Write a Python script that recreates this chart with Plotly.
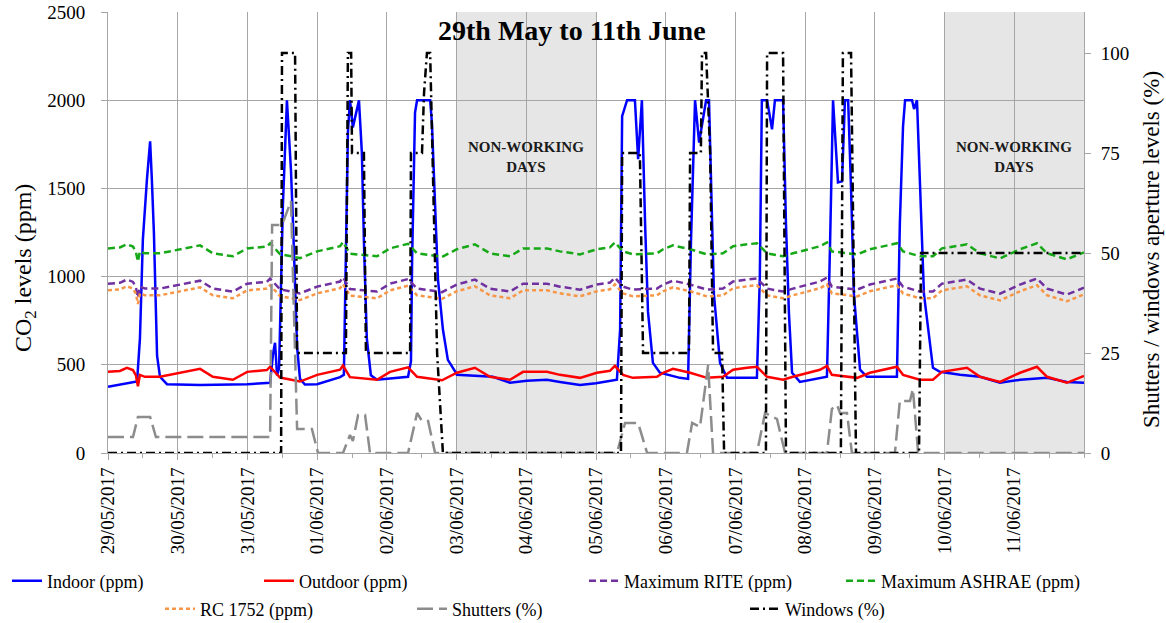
import pandas as pd
import plotly.graph_objects as go

START = pd.Timestamp("2017-05-29 00:00")

# ---- Indoor CO2 (hours since 29/05 00:00, ppm) ----
indoor_h = [0.0, 8.6, 10.0, 11.0, 12.0, 13.4, 14.5, 15.1, 15.8, 16.9, 17.9, 20.3, 31.7, 47.9,
            55.8, 56.8, 57.5, 58.2, 58.9, 60.2, 61.6, 62.3, 63.0, 63.7, 64.4, 65.1, 66.1, 67.8, 72.0,
            79.9, 81.2, 82.3, 82.6, 83.3, 84.3, 86.4, 87.4, 88.1, 89.1, 90.5, 92.6,
            103.3, 104.3, 104.7, 105.7, 106.4, 110.9, 111.5, 112.2, 113.6, 115.3, 117.0, 119.8,
            120.1, 132.5, 138.4, 144.2, 151.1, 155.6, 162.5, 168.0, 175.2,
            176.3, 177.0, 178.7, 181.4, 182.5, 183.8, 184.9, 185.9, 187.6, 190.0, 196.9,
            199.7, 200.7, 201.4, 202.1, 203.5, 204.8, 205.9, 206.9, 207.6, 208.6, 210.7, 213.1, 223.4,
            224.4, 225.1, 226.9, 228.6, 229.6, 232.4, 233.4, 234.4, 235.5, 238.2, 247.5,
            248.6, 249.6, 251.3, 252.7, 253.7, 254.8, 255.8, 256.8, 258.9, 261.3, 271.6,
            272.6, 273.7, 274.4, 276.8, 277.5, 278.5, 279.5, 280.9, 284.0, 286.4,
            293.3, 300.2, 307.1, 314.0, 323.3, 330.1, 336.0]
indoor_ppm = [375, 398, 405, 650, 1210, 1550, 1767, 1550, 1250, 550, 432, 390, 385, 390,
              398, 560, 625, 440, 480, 1400, 2000, 1800, 1600, 1300, 900, 600, 420, 388, 390,
              430, 443, 1600, 1820, 2000, 1846, 2000, 1700, 1200, 650, 440, 415,
              432, 520, 1100, 1930, 2000, 2000, 1875, 1550, 983, 700, 528, 455,
              443, 432, 398, 410, 415, 403, 386, 395, 415,
              700, 1910, 2000, 2000, 1665, 2000, 1300, 800, 511, 455, 426,
              420, 1200, 1600, 2000, 1760, 1900, 2000, 2000, 1500, 900, 511, 426, 426,
              1000, 2000, 2000, 1835, 2000, 2000, 1300, 800, 455, 403, 432,
              1200, 2000, 1534, 1540, 2000, 2000, 1500, 900, 472, 432, 432,
              1300, 1852, 2000, 2000, 1950, 2000, 1500, 900, 483, 460,
              443, 432, 398, 415, 426, 403, 398]

# ---- Outdoor CO2 and the three limit curves (hours, ppm) ----
outdoor_h = [0.0, 4.1, 6.5, 8.6, 9.6, 10.3, 11.0, 12.7, 17.9, 23.1, 28.2, 31.7, 36.1, 43.0,
             47.9, 54.7, 55.8, 59.2, 66.1, 72.0, 79.9, 80.9, 83.3, 92.6, 97.1, 103.3, 106.4,
             115.0, 120.1, 126.3, 131.5, 138.4, 142.9, 151.1, 155.6, 162.5, 168.3, 172.8,
             174.5, 177.3, 180.7, 189.0, 191.1, 194.5, 200.4, 206.2, 211.7, 215.2, 220.0,
             223.4, 226.9, 232.4, 235.8, 241.7, 245.1, 247.5, 249.2, 257.9, 262.3, 271.6,
             273.7, 279.5, 284.0, 287.1, 295.7, 300.2, 307.1, 314.0, 319.8, 323.3, 330.1, 336.0]
outdoor_ppm = [460, 465, 483, 470, 440, 378, 443, 432, 432, 450, 465, 477, 432, 415,
               460, 470, 489, 428, 405, 443, 472, 496, 430, 415, 460, 486, 432,
               412, 455, 483, 432, 415, 460, 460, 443, 426, 455, 466,
               494, 443, 426, 432, 455, 477, 455, 426, 432, 472, 483,
               489, 432, 415, 432, 460, 472, 494, 443, 426, 455, 489,
               443, 415, 415, 460, 483, 432, 403, 455, 489, 432, 398, 437]
rite_ppm = [960, 965, 983, 970, 940, 880, 943, 932, 932, 950, 965, 977, 932, 915,
            960, 970, 989, 928, 905, 943, 972, 996, 930, 915, 960, 986, 932,
            912, 955, 983, 932, 915, 960, 960, 943, 926, 955, 966,
            994, 943, 926, 932, 955, 977, 955, 926, 932, 972, 983,
            989, 932, 915, 932, 960, 972, 994, 943, 926, 955, 989,
            943, 915, 915, 960, 983, 932, 903, 955, 989, 932, 898, 937]
ashrae_ppm = [1160, 1165, 1183, 1170, 1140, 1085, 1143, 1132, 1132, 1150, 1165, 1177, 1132, 1115,
              1160, 1170, 1189, 1128, 1105, 1143, 1172, 1196, 1130, 1115, 1160, 1186, 1132,
              1112, 1155, 1183, 1132, 1115, 1160, 1160, 1143, 1126, 1155, 1166,
              1194, 1143, 1126, 1132, 1155, 1177, 1155, 1126, 1132, 1172, 1183,
              1189, 1132, 1115, 1132, 1160, 1172, 1194, 1143, 1126, 1155, 1189,
              1143, 1115, 1115, 1160, 1183, 1132, 1103, 1155, 1189, 1132, 1098, 1137]
rc1752_ppm = [922, 927, 945, 932, 902, 845, 905, 894, 894, 912, 927, 939, 894, 877,
              922, 932, 951, 890, 867, 905, 934, 958, 892, 877, 922, 948, 894,
              874, 917, 945, 894, 877, 922, 922, 905, 888, 917, 928,
              956, 905, 888, 894, 917, 939, 917, 888, 894, 934, 945,
              951, 894, 877, 894, 922, 934, 956, 905, 888, 917, 951,
              905, 877, 877, 922, 945, 894, 865, 917, 951, 894, 860, 899]

# ---- Shutters and windows aperture (hours, %) ----
shutters_h = [0.0, 8.6, 10.3, 14.5, 16.5, 55.8, 56.5, 59.9, 63.0, 65.1, 70.2, 72.3,
              80.9, 83.3, 84.3, 86.1, 88.5, 90.2, 103.3, 106.4, 108.1, 110.2, 112.6,
              175.2, 178.0, 182.5, 185.6, 199.3, 201.1, 203.8, 206.6, 208.3,
              223.4, 226.2, 230.3, 233.1, 247.5, 249.2, 251.0, 252.0, 254.4, 256.1,
              270.9, 272.6, 276.1, 277.1, 278.9, 336.0]
shutters_pct = [4, 4, 9, 9, 4, 4, 57, 57, 63, 6, 6, 0,
                0, 4.5, 3, 9.5, 9.5, 0, 0, 10, 8, 8, 0,
                0, 7.5, 7.5, 0, 0, 7.5, 6.5, 22, 0,
                0, 10, 8.5, 0, 0, 11, 12, 10, 10, 0,
                0, 13, 13, 16, 0, 0]

windows_h = [0.0, 59.6, 59.9, 64.4, 65.1, 81.9, 82.6, 83.7, 84.0, 88.1, 88.8,
             104.0, 104.3, 108.1, 108.8, 109.8, 110.9, 113.3, 115.3,
             176.6, 177.0, 183.1, 184.2, 200.0, 200.4, 204.1, 204.5, 205.9, 207.3, 208.3,
             211.4, 212.1, 226.5, 226.9, 232.4, 233.4, 252.3, 253.0, 255.8, 257.5,
             279.2, 279.9, 336.0]
windows_pct = [0, 0, 100, 100, 25, 25, 100, 100, 75, 75, 25,
               25, 75, 75, 90, 100, 100, 25, 0,
               0, 75, 75, 25, 25, 75, 75, 100, 100, 75, 25,
               25, 0, 0, 100, 100, 0, 0, 100, 100, 0,
               0, 50, 50]

day_ticks = pd.date_range("2017-05-29", "2017-06-11", freq="D")
x_range = ["2017-05-29", "2017-06-12"]
non_working = [("2017-06-03", "2017-06-05"), ("2017-06-10", "2017-06-12")]


def to_time(hours):
    return START + pd.to_timedelta(hours, unit="h")


FONT = "Liberation Serif"
GRID = "#a6a6a6"

series = [
    ("Indoor (ppm)", indoor_h, indoor_ppm, "#0000ff", "solid", "y"),
    ("Outdoor (ppm)", outdoor_h, outdoor_ppm, "#ff0000", "solid", "y"),
    ("Maximum RITE (ppm)", outdoor_h, rite_ppm, "#7030a0", "7px,4px", "y"),
    ("Maximum ASHRAE (ppm)", outdoor_h, ashrae_ppm, "#16a816", "7px,4px", "y"),
    ("RC 1752 (ppm)", outdoor_h, rc1752_ppm, "#f79646", "4px,3px", "y"),
    ("Shutters (%)", shutters_h, shutters_pct, "#8c8c8c", "16px,6px", "y2"),
    ("Windows (%)", windows_h, windows_pct, "#000000", "9px,4px,2px,4px", "y2"),
]

# legend slot of each series: (left edge px, row centre px)
legend_slots = [(7, 581), (259, 581), (584, 581), (841, 581),
                (160, 609), (412, 609), (745, 609)]

PLOT_L, PLOT_R, PLOT_T, PLOT_B = 108, 1084, 12, 453
W, H = 1166, 623


def px_x(px):
    return (px - PLOT_L) / (PLOT_R - PLOT_L)


def px_y(py):
    return (PLOT_B - py) / (PLOT_B - PLOT_T)


fig = go.Figure()
layout_legends = {}
for i, (name, hrs, vals, color, dash, yax) in enumerate(series):
    key = "legend" if i == 0 else f"legend{i + 1}"
    fig.add_trace(go.Scatter(
        x=to_time(hrs), y=vals, name=name, mode="lines", yaxis=yax,
        line=dict(color=color, width=2.5, dash=dash),
        legend=key, showlegend=True,
    ))
    lx, ly = legend_slots[i]
    layout_legends[key] = dict(
        x=px_x(lx), y=px_y(ly),
        xanchor="left", yanchor="middle", orientation="h",
        bgcolor="rgba(0,0,0,0)", borderwidth=0, visible=True,
        font=dict(family=FONT, size=18, color="#000000"),
    )

shapes = [dict(type="rect", xref="x", yref="paper", x0=a, x1=b, y0=0, y1=1,
               fillcolor="#e6e6e6", line=dict(width=0), layer="below")
          for a, b in non_working]

annotations = [
    dict(text="<b>29th May to 11th June</b>", xref="paper", yref="paper",
         x=px_x(572), y=px_y(31), xanchor="center", yanchor="middle", showarrow=False,
         font=dict(family=FONT, size=28, color="#000000")),
    # axis titles
    dict(text="CO<sub>2</sub> levels (ppm)", xref="paper", yref="paper",
         x=px_x(25), y=px_y(268), xanchor="center", yanchor="middle", textangle=-90,
         showarrow=False, font=dict(family=FONT, size=24, color="#000000")),
    dict(text="Shutters / windows aperture levels (%)", xref="paper", yref="paper",
         x=px_x(1151), y=px_y(250), xanchor="center", yanchor="middle", textangle=-90,
         showarrow=False, font=dict(family=FONT, size=23, color="#000000")),
]
for a, b in non_working:
    mid = pd.Timestamp(a) + (pd.Timestamp(b) - pd.Timestamp(a)) / 2
    annotations.append(dict(text="<b>NON-WORKING<br>DAYS</b>", x=mid, y=1680,
                            xref="x", yref="y", showarrow=False,
                            font=dict(family=FONT, size=15, color="#1a1a1a")))

fig.update_layout(
    width=W, height=H, autosize=False, showlegend=True,
    margin=dict(l=PLOT_L, r=W - PLOT_R, t=PLOT_T, b=H - PLOT_B, autoexpand=False),
    paper_bgcolor="#ffffff", plot_bgcolor="#ffffff",
    font=dict(family=FONT, size=19, color="#000000"),
    shapes=shapes, annotations=annotations,
    xaxis=dict(
        type="date", range=x_range,
        tickmode="array", tickvals=day_ticks,
        ticktext=[d.strftime("%d/%m/%Y") for d in day_ticks], tickangle=-90,
        ticks="outside", ticklen=6, tickcolor=GRID,
        showgrid=True, gridcolor=GRID, gridwidth=1,
        showline=True, linecolor=GRID, linewidth=1, zeroline=False,
        tickfont=dict(family=FONT, size=19),
        minor=dict(tickmode="linear", tick0="2017-05-29", dtick=43200000,
                   ticks="outside", ticklen=4, tickcolor=GRID, showgrid=False),
    ),
    yaxis=dict(
        range=[0, 2500], tickmode="array", tickvals=[0, 500, 1000, 1500, 2000, 2500],
        ticks="outside", ticklen=6, tickcolor=GRID,
        showgrid=True, gridcolor=GRID, gridwidth=1,
        showline=True, linecolor=GRID, zeroline=False,
        tickfont=dict(family=FONT, size=19), ticklabelstandoff=12,
    ),
    yaxis2=dict(
        overlaying="y", side="right", range=[0, 110.25],
        tickmode="array", tickvals=[0, 25, 50, 75, 100],
        ticks="outside", ticklen=6, tickcolor=GRID,
        showgrid=False, showline=True, linecolor=GRID, zeroline=False,
        tickfont=dict(family=FONT, size=19), ticklabelstandoff=6,
    ),
    **layout_legends,
)

fig.write_html("out.html")
